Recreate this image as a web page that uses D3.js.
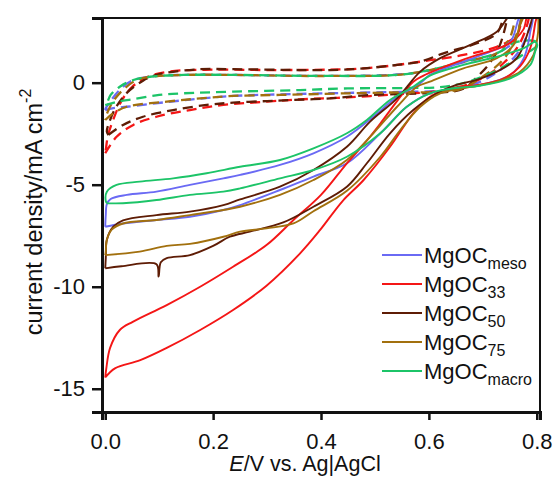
<!DOCTYPE html>
<html>
<head>
<meta charset="utf-8">
<script src="https://cdn.jsdelivr.net/npm/d3@7"></script>
<style>
  body { margin: 0; background: #fff; }
  svg { font-family: Arial, "Liberation Sans", sans-serif; }
</style>
</head>
<body>
<svg id="chart" width="553" height="481"></svg>
<script>
var samples = ['meso', '33', '50', '75', 'macro'];
var colors = ['#6a6af4', '#f41616', '#5e1c05', '#a2700e', '#1cc468'];

// solid loops: forward sweep then back to 0 V
var mesoSolid = [
  [0.0,-7.06],[0.033,-6.9],[0.095,-6.73],[0.157,-6.57],[0.219,-6.24],[0.25,-6.0],[0.324,-5.26],
  [0.386,-4.6],[0.448,-3.95],[0.51,-2.48],[0.559,-1.18],[0.602,-0.52],[0.65,-0.3],[0.695,-0.11],
  [0.751,0.38],[0.776,1.2],[0.788,2.5],[0.792,3.4],
  [0.772,3.4],[0.751,2.0],[0.714,1.52],[0.664,1.03],[0.602,0.38],[0.584,-0.03],[0.541,-0.69],
  [0.497,-1.67],[0.448,-2.65],[0.386,-3.46],[0.324,-4.03],[0.25,-4.52],[0.219,-4.69],[0.157,-5.01],
  [0.095,-5.34],[0.04,-5.5],[0.01,-5.7],[0.003,-5.95],[0.001,-6.5]
];
var mgoc33Solid = [
  [0.0,-14.45],[0.018,-14.0],[0.065,-13.6],[0.114,-13.0],[0.176,-12.12],[0.237,-11.14],[0.299,-9.95],
  [0.36,-8.4],[0.398,-7.23],[0.44,-5.8],[0.479,-4.77],[0.528,-3.14],[0.571,-1.5],[0.602,-0.69],
  [0.646,-0.25],[0.695,-0.1],[0.738,0.2],[0.769,0.8],[0.788,1.7],[0.797,2.9],[0.8,3.4],
  [0.785,3.4],[0.775,2.6],[0.751,1.95],[0.72,1.6],[0.69,1.36],[0.65,1.0],[0.621,0.7],[0.59,0.35],
  [0.571,0.05],[0.541,-0.9],[0.51,-2.0],[0.48,-3.0],[0.448,-3.95],[0.4,-5.5],[0.349,-6.73],
  [0.299,-7.96],[0.237,-9.02],[0.176,-10.0],[0.114,-10.9],[0.051,-11.72],[0.027,-12.12],
  [0.009,-13.0],[0.002,-14.0]
];
var mgoc50Solid = [
  [0.0,-9.1],[0.03,-9.0],[0.095,-8.9],[0.099,-9.5],[0.103,-8.8],[0.114,-8.6],[0.157,-8.45],
  [0.2,-8.0],[0.231,-7.55],[0.268,-7.3],[0.33,-6.85],[0.386,-6.08],[0.448,-5.1],[0.485,-3.95],
  [0.528,-2.48],[0.571,-1.34],[0.615,-0.52],[0.652,-0.1],[0.69,0.15],[0.726,0.54],[0.763,1.2],
  [0.782,2.34],[0.79,3.4],
  [0.755,3.4],[0.726,2.5],[0.677,1.85],[0.621,1.2],[0.584,0.54],[0.541,-0.77],[0.491,-1.91],
  [0.448,-3.14],[0.386,-4.28],[0.324,-5.1],[0.25,-5.72],[0.219,-6.0],[0.157,-6.32],[0.095,-6.49],
  [0.033,-6.75],[0.015,-7.06],[0.003,-7.7],[0.001,-8.6]
];
var mgoc75Solid = [
  [0.0,-8.45],[0.064,-8.28],[0.114,-8.0],[0.157,-7.9],[0.219,-7.55],[0.25,-7.3],[0.299,-7.14],
  [0.349,-6.9],[0.386,-6.3],[0.448,-5.3],[0.51,-3.63],[0.547,-2.32],[0.584,-1.18],[0.621,-0.52],
  [0.658,-0.3],[0.69,-0.15],[0.726,0.05],[0.769,0.54],[0.794,1.36],[0.8,2.0],[0.803,2.8],[0.8,3.4],
  [0.782,3.4],[0.769,2.83],[0.757,1.85],[0.726,1.2],[0.664,0.7],[0.602,0.05],[0.578,-0.2],
  [0.541,-1.18],[0.497,-2.48],[0.448,-3.79],[0.386,-4.77],[0.324,-5.5],[0.25,-6.08],[0.219,-6.24],
  [0.157,-6.49],[0.095,-6.73],[0.033,-6.9],[0.012,-7.2],[0.003,-7.7],[0.001,-8.3]
];
var macroSolid = [
  [0.003,-5.91],[0.033,-5.91],[0.095,-5.75],[0.157,-5.5],[0.219,-5.34],[0.25,-5.18],[0.324,-4.69],
  [0.386,-4.28],[0.448,-3.63],[0.51,-2.48],[0.559,-1.18],[0.602,-0.52],[0.652,-0.25],[0.695,-0.15],
  [0.751,0.21],[0.788,0.87],[0.797,1.52],[0.801,1.85],
  [0.797,2.0],[0.776,1.69],[0.726,1.27],[0.664,0.87],[0.602,0.35],[0.571,-0.2],[0.528,-0.85],
  [0.485,-1.83],[0.448,-2.48],[0.386,-3.22],[0.324,-3.79],[0.25,-4.12],[0.188,-4.44],[0.126,-4.69],
  [0.064,-4.85],[0.021,-5.01],[0.003,-5.34],[0.001,-5.8]
];

// dashed loops
var mesoDash = [
  [0.0,-1.34],[0.015,-1.25],[0.04,-1.18],[0.114,-0.95],[0.176,-0.78],[0.237,-0.65],[0.361,-0.55],
  [0.45,-0.5],[0.55,-0.45],[0.62,-0.4],[0.67,-0.2],[0.72,0.4],[0.76,1.3],[0.78,2.2],[0.79,3.4],
  [0.775,3.4],[0.76,2.1],[0.726,1.44],[0.664,1.0],[0.602,0.6],[0.541,0.4],[0.417,0.33],[0.237,0.38],
  [0.145,0.38],[0.09,0.32],[0.05,0.1],[0.025,-0.4],[0.01,-0.9],[0.001,-1.25]
];
var mgoc33Dash = [
  [0.0,-3.46],[0.021,-2.65],[0.052,-2.07],[0.095,-1.67],[0.157,-1.34],[0.219,-1.09],[0.3,-0.93],
  [0.36,-0.82],[0.45,-0.72],[0.55,-0.55],[0.62,-0.4],[0.67,-0.1],[0.71,0.4],[0.74,1.0],[0.77,2.0],
  [0.785,3.4],
  [0.776,3.4],[0.763,2.34],[0.726,1.76],[0.664,1.36],[0.602,1.1],[0.541,0.87],[0.479,0.7],
  [0.417,0.64],[0.3,0.62],[0.2,0.64],[0.12,0.55],[0.08,0.3],[0.05,-0.2],[0.03,-0.9],[0.015,-1.8],
  [0.005,-2.6],[0.001,-3.3]
];
var mgoc50Dash = [
  [0.006,-2.56],[0.033,-2.07],[0.07,-1.67],[0.126,-1.34],[0.188,-1.09],[0.237,-0.98],[0.3,-0.9],
  [0.343,-0.85],[0.417,-0.77],[0.479,-0.62],[0.55,-0.55],[0.62,-0.48],[0.664,-0.3],[0.69,0.3],
  [0.714,1.0],[0.733,1.94],[0.745,3.4],
  [0.742,3.4],[0.726,2.42],[0.689,1.93],[0.627,1.44],[0.584,1.03],[0.541,0.87],[0.479,0.7],
  [0.417,0.62],[0.361,0.62],[0.237,0.66],[0.176,0.66],[0.114,0.49],[0.095,0.38],[0.07,0.1],
  [0.04,-0.5],[0.02,-1.2],[0.008,-1.9],[0.003,-2.4]
];
var mgoc75Dash = [
  [0.0,-1.83],[0.015,-1.5],[0.04,-1.18],[0.114,-0.93],[0.176,-0.77],[0.237,-0.65],[0.324,-0.6],
  [0.45,-0.52],[0.55,-0.47],[0.62,-0.45],[0.66,-0.3],[0.7,0.3],[0.74,1.2],[0.76,2.2],[0.772,3.4],
  [0.765,3.4],[0.75,2.2],[0.726,1.44],[0.664,1.03],[0.602,0.62],[0.541,0.38],[0.417,0.33],
  [0.361,0.33],[0.237,0.38],[0.145,0.38],[0.09,0.3],[0.06,0.15],[0.035,-0.3],[0.015,-0.9],
  [0.005,-1.4],[0.001,-1.7]
];
var macroDash = [
  [0.0,-1.1],[0.02,-0.95],[0.052,-0.81],[0.1,-0.6],[0.145,-0.52],[0.237,-0.44],[0.361,-0.36],
  [0.45,-0.28],[0.56,-0.26],[0.62,-0.22],[0.66,-0.05],[0.7,0.3],[0.74,0.8],[0.77,1.3],[0.8,1.8],
  [0.8,2.0],[0.763,2.0],[0.726,1.44],[0.664,1.03],[0.602,0.62],[0.541,0.38],[0.417,0.33],
  [0.237,0.38],[0.145,0.38],[0.083,0.29],[0.052,0.13],[0.027,-0.2],[0.01,-0.6],[0.003,-1.01]
];

var xTicks = [0, 0.2, 0.4, 0.6, 0.8];
var yTicks = [0, -5, -10, -15];

var solids = [mesoSolid, mgoc33Solid, mgoc50Solid, mgoc75Solid, macroSolid];
var dashes = [mesoDash, mgoc33Dash, mgoc50Dash, mgoc75Dash, macroDash];

var series = samples.map(function(s, i) {
  return { name: s, color: colors[i], solid: solids[i], dashed: dashes[i] };
});

var plotLeft = 102, plotRight = 540, plotTop = 18, plotBottom = 412;
var svg = d3.select('#chart');

var x = d3.scaleLinear().domain([-0.006, 0.806]).range([plotLeft, plotRight]);
var y = d3.scaleLinear().domain([-16.14, 3.17]).range([plotBottom, plotTop]);

svg.append('defs').append('clipPath')
    .attr('id', 'plot-clip')
  .append('rect')
    .attr('x', plotLeft)
    .attr('y', plotTop)
    .attr('width', plotRight - plotLeft)
    .attr('height', plotBottom - plotTop);

var line = d3.line()
  .x(function(d) { return x(d[0]); })
  .y(function(d) { return y(d[1]); })
  .curve(d3.curveCatmullRom.alpha(0.5));

function closed(pts) { return pts.concat([pts[0]]); }

var plot = svg.append('g').attr('clip-path', 'url(#plot-clip)');

plot.selectAll('.dash-line')
  .data(series)
  .enter()
  .append('path')
    .attr('class', 'dash-line')
    .attr('fill', 'none')
    .attr('stroke', function(d) { return d.color; })
    .attr('stroke-width', 2.3)
    .attr('stroke-dasharray', '10,6')
    .attr('d', function(d) { return line(closed(d.dashed)); });

plot.selectAll('.solid-line')
  .data(series)
  .enter()
  .append('path')
    .attr('class', 'solid-line')
    .attr('fill', 'none')
    .attr('stroke', function(d) { return d.color; })
    .attr('stroke-width', 1.9)
    .attr('stroke-linejoin', 'round')
    .attr('d', function(d) { return line(closed(d.solid)); });

// frame
svg.append('rect')
  .attr('x', plotLeft)
  .attr('y', plotTop)
  .attr('width', plotRight - plotLeft)
  .attr('height', plotBottom - plotTop)
  .attr('fill', 'none')
  .attr('stroke', '#111')
  .attr('stroke-width', 2);

var yAxis = svg.append('g')
  .attr('transform', 'translate(' + plotLeft + ',0)')
  .call(d3.axisLeft(y).tickValues(yTicks).tickSize(10).tickPadding(7)
    .tickFormat(function(d) { return String(d); }));

var xAxis = svg.append('g')
  .attr('transform', 'translate(0,' + plotBottom + ')')
  .call(d3.axisBottom(x).tickValues(xTicks).tickSize(8).tickPadding(13)
    .tickFormat(d3.format('.1f')));

[yAxis, xAxis].forEach(function(a) {
  a.select('.domain').attr('stroke', '#111').attr('stroke-width', 3);
  a.selectAll('.tick line').attr('stroke', '#111').attr('stroke-width', 2.5);
  a.selectAll('.tick text')
    .attr('fill', '#111')
    .style('font-size', '22px')
    .style('font-family', 'Arial, "Liberation Sans", sans-serif');
});

var ylab = svg.append('text')
  .attr('transform', 'translate(42,212) rotate(-90)')
  .attr('text-anchor', 'middle')
  .attr('fill', '#111')
  .style('font-size', '23.5px');
ylab.append('tspan').text('current density/mA cm');
ylab.append('tspan').attr('dy', -11).style('font-size', '16px').text('-2');

var xlab = svg.append('text')
  .attr('x', 305)
  .attr('y', 471)
  .attr('text-anchor', 'middle')
  .attr('fill', '#111')
  .style('font-size', '21.5px');
xlab.append('tspan').style('font-style', 'italic').text('E');
xlab.append('tspan').text('/V vs. Ag|AgCl');

// legend
var legend = svg.append('g').attr('class', 'legend');
var items = legend.selectAll('.legend-item')
  .data(series)
  .enter()
  .append('g')
    .attr('class', 'legend-item')
    .attr('transform', function(d, i) { return 'translate(0,' + (255 + i * 29) + ')'; });

items.append('line')
  .attr('x1', 382)
  .attr('x2', 422)
  .attr('stroke', function(d) { return d.color; })
  .attr('stroke-width', 2);

var lt = items.append('text')
  .attr('x', 424)
  .attr('y', 7.5)
  .attr('fill', '#111')
  .style('font-size', '22px');
lt.append('tspan').text('MgOC');
lt.append('tspan')
  .attr('dy', 6.5)
  .style('font-size', '16px')
  .text(function(d) { return d.name; });
</script>
</body>
</html>
